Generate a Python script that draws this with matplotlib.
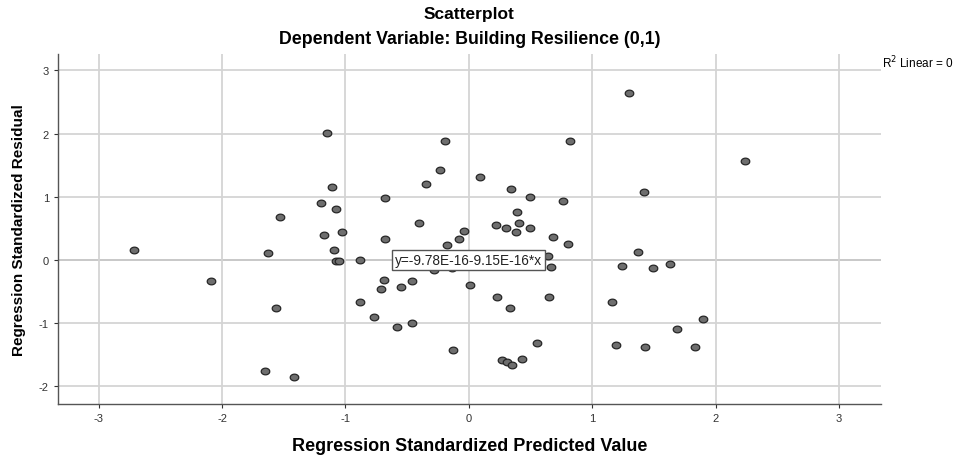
import numpy as np
import matplotlib.pyplot as plt
from matplotlib.path import Path

plt.rcParams['font.family'] = ['Liberation Sans', 'DejaVu Sans']
plt.rcParams['axes.unicode_minus'] = False

# predicted values (x) and residuals (y)
pred = [-2.71, -2.09, -1.63, -1.53, -1.56, -1.65, -1.42, -1.15, -1.11, -1.20,
        -1.08, -1.17, -1.03, -1.09, -1.08, -1.05, -0.88, -0.68, -0.68, -0.69,
        -0.71, -0.55, -0.46, -0.88, -0.77, -0.58, -0.46, -0.13, -0.19, -0.23,
        -0.35, -0.40, -0.04, -0.08, -0.18, -0.28, -0.14, 0.01,
        1.30, 0.82, 2.24, 0.09, 0.34, 0.50, 0.76, 1.42, 0.39, 0.22,
        0.30, 0.41, 0.38, 0.50, 0.68, 0.80, 1.37, 0.64, 0.67, 1.24,
        1.49, 1.63, 0.23, 0.65, 0.33, 1.16, 1.90, 1.69, 0.55, 1.19,
        1.43, 1.83, 0.27, 0.31, 0.35, 0.43]
resid = [0.16, -0.34, 0.11, 0.68, -0.76, -1.76, -1.85, 2.01, 1.16, 0.90,
         0.81, 0.40, 0.44, 0.16, -0.01, -0.02, 0.00, 0.98, 0.33, -0.32,
         -0.46, -0.43, -0.34, -0.66, -0.91, -1.06, -1.00, -1.42, 1.88, 1.43,
         1.20, 0.59, 0.46, 0.33, 0.24, -0.16, -0.12, -0.40,
         2.64, 1.88, 1.56, 1.32, 1.12, 1.00, 0.94, 1.07, 0.76, 0.56,
         0.51, 0.58, 0.44, 0.51, 0.36, 0.26, 0.13, 0.07, -0.11, -0.09,
         -0.13, -0.07, -0.58, -0.59, -0.76, -0.67, -0.94, -1.10, -1.32, -1.35,
         -1.38, -1.38, -1.59, -1.62, -1.66, -1.56]

xticks = [-3, -2, -1, 0, 1, 2, 3]
yticks = [-2, -1, 0, 1, 2, 3]

fig = plt.figure(figsize=(9.58, 4.6), dpi=100)
ax = fig.add_axes([0.0605, 0.1196, 0.859, 0.7608])

# slightly flattened circle like the SPSS dots
t = np.linspace(0, 2*np.pi, 40)
ell = Path(np.column_stack([np.cos(t), 0.78*np.sin(t)]))

ax.grid(True, color='#d4d4d4', lw=1.3, zorder=0)
ax.axhline(0, color='#404040', lw=1.1, zorder=1)
ax.scatter(pred, resid, marker=ell, s=38, c='#6e6e6e', edgecolors='#262626',
           linewidths=0.9, zorder=3)

ax.text(0, 0, 'y=-9.78E-16-9.15E-16*x', ha='center', va='center', fontsize=9.8,
        color='#222222', zorder=4,
        bbox=dict(boxstyle='square,pad=0.22', fc='white', ec='#555555', lw=1))

ax.set_xlim(-3.33, 3.34)
ax.set_ylim(-2.28, 3.26)
ax.set_xticks(xticks)
ax.set_yticks(yticks)
ax.tick_params(labelsize=8, colors='#333333', length=3, width=0.8)
for s in ['top', 'right']:
    ax.spines[s].set_visible(False)
for s in ['left', 'bottom']:
    ax.spines[s].set_color('#555555')
    ax.spines[s].set_linewidth(1)

ax.set_xlabel('Regression Standardized Predicted Value', fontsize=13,
              fontweight='bold', labelpad=10)
ax.set_ylabel('Regression Standardized Residual', fontsize=11,
              fontweight='bold', labelpad=9)

fig.text(0.49, 0.968, 'Scatterplot', ha='center', va='center', fontsize=12.5,
         fontweight='bold')
fig.text(0.49, 0.914, 'Dependent Variable: Building Resilience (0,1)',
         ha='center', va='center', fontsize=12.8, fontweight='bold')
fig.text(0.921, 0.864, r'R$^2$ Linear = 0', ha='left', va='center', fontsize=8.5)

fig.savefig('out.png', dpi=100)
